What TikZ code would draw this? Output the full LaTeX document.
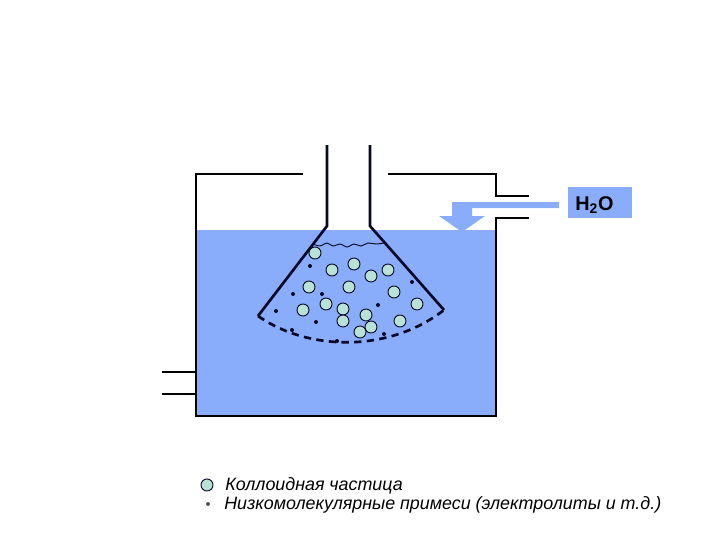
\documentclass[tikz,border=0pt]{standalone}
\usepackage{fontspec}
\setmainfont{Liberation Sans}
\usepackage{xcolor}
\usetikzlibrary{positioning}
\definecolor{waterblue}{RGB}{138,173,251}
\definecolor{particlegreen}{RGB}{184,226,214}
\definecolor{walldark}{RGB}{8,8,40}

\begin{document}
\begin{tikzpicture}[x=0.75pt,y=-0.75pt,
    wall/.style={line width=1.5pt, draw=black},
    membrane/.style={line width=2pt, draw=walldark},
    particle/.style={circle, draw=walldark, fill=particlegreen, line width=0.7pt,
                     inner sep=0pt, minimum size=9pt},
    impurity/.style={circle, fill=walldark, inner sep=0pt, minimum size=3pt},
    legendtext/.style={font=\fontsize{13.4}{15}\selectfont\itshape, inner sep=0pt, anchor=base west}]
\useasboundingbox (0,0) rectangle (720,540);

% water and inlet
\fill[waterblue] (196,230) rectangle (496,416);
\fill[waterblue] (452,202) -- (559,202) -- (559,208) -- (472,208) -- (472,216) -- (485,216)
    -- (462,232) -- (439,216) -- (452,216) -- cycle;

% vessel
\draw[wall] (303,174) -- (196,174) -- (196,416) -- (496,416) -- (496,218) -- (529,218);
\draw[wall] (388,174) -- (496,174) -- (496,196) -- (529,196);
\draw[wall] (162,372) -- (196,372);
\draw[wall] (162,394) -- (196,394);

% dialysis bag
\draw[membrane] (327,145) -- (327,226) -- (258,316);
\draw[membrane] (370,145) -- (370,226) -- (444,310);
\draw[membrane, dash pattern=on 5.5pt off 4pt] (258,316) .. controls (310,352) and (390,352) .. (444,310);
\draw[walldark, line width=0.7pt] plot[smooth] coordinates {(313,244) (320,246) (327,243) (333,246)
    (340,244) (347,247) (354,244) (361,246) (368,243) (376,244) (384,243)};

% colloid particles
\node[particle] (p1) at (315,253) {};
\node[particle] (p2) at (332,270) {};
\node[particle] (p3) at (354,264) {};
\node[particle] (p4) at (371,276) {};
\node[particle] (p5) at (388,270) {};
\node[particle] (p6) at (309,287) {};
\node[particle] (p7) at (349,287) {};
\node[particle] (p8) at (394,292) {};
\node[particle] (p9) at (417,304) {};
\node[particle] (p10) at (303,310) {};
\node[particle] (p11) at (326,304) {};
\node[particle] (p12) at (343,309) {};
\node[particle] (p13) at (343,321) {};
\node[particle] (p14) at (366,315) {};
\node[particle] (p15) at (371,327) {};
\node[particle] (p16) at (360,332) {};
\node[particle] (p17) at (400,321) {};

% small impurities
\node[impurity] (i1) at (310,266) {};
\node[impurity] (i2) at (293,294) {};
\node[impurity] (i3) at (322,294) {};
\node[impurity] (i4) at (276,311) {};
\node[impurity] (i5) at (316,322) {};
\node[impurity] (i6) at (378,305) {};
\node[impurity] (i7) at (412,282) {};
\node[impurity] (i8) at (384,334) {};
\node[impurity] (i9) at (292,330) {};
\node[impurity] (i10) at (337,341) {};

% label box
\node[fill=waterblue, minimum width=48pt, minimum height=23.2pt, inner sep=0pt] (waterbox) at (600,202.5) {};
\node[inner sep=0pt, anchor=base west, font=\fontsize{14.9}{16}\selectfont\bfseries] (water) at (575,210)
      {H\textsubscript{2}O};

% legend
\node[particle] (key1) at (207,485) {};
\node[impurity, fill=walldark!70] (key2) at (208,504) {};
\node[legendtext] (text1) at (225,490) {Коллоидная частица};
\node[legendtext] (text2) at (224,509) {Низкомолекулярные примеси (электролиты и т.д.)};
\end{tikzpicture}
\end{document}
